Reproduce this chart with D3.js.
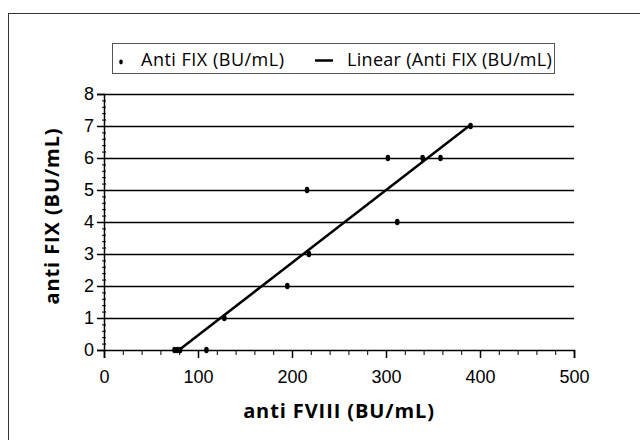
<!DOCTYPE html>
<html>
<head>
<meta charset="utf-8">
<script src="https://cdn.jsdelivr.net/npm/d3@7"></script>
<style>
  body { margin: 0; background: #fff; }
  svg { font-family: "Open Sans", "Noto Sans", sans-serif; }
</style>
</head>
<body>
<svg id="chart" width="640" height="440"></svg>
<script>
// 데이터
const antiFVIII = [75, 78, 81, 109, 128, 195, 216, 218, 302, 312, 339, 358, 390];
const antiFIX   = [0, 0, 0, 0, 1, 2, 5, 3, 6, 4, 6, 6, 7];
const xTicks = [0, 100, 200, 300, 400, 500];
const yTicks = [0, 1, 2, 3, 4, 5, 6, 7, 8];
const legendLabels = ["Anti FIX (BU/mL)", "Linear (Anti FIX (BU/mL)"];
const xTitle = "anti FVIII (BU/mL)";
const yTitle = "anti FIX (BU/mL)";

const svg = d3.select("#chart");
const margin = { top: 94, right: 66, bottom: 90, left: 104 };
const width = +svg.attr("width") - margin.left - margin.right;
const height = +svg.attr("height") - margin.top - margin.bottom;

// 바깥 테두리
svg.append("rect")
    .attr("x", 8.5).attr("y", 13.5)
    .attr("width", 700).attr("height", 600)
    .attr("fill", "none").attr("stroke", "#333").attr("stroke-width", 1);

const g = svg.append("g").attr("transform", `translate(${margin.left},${margin.top})`);

const x = d3.scaleLinear().domain([0, 500]).range([0, width]);
const y = d3.scaleLinear().domain([0, 8]).range([height, 0]);

// 가로 격자선
g.append("g")
    .call(d3.axisLeft(y).tickValues(yTicks.slice(1)).tickSize(-width).tickFormat(""))
    .call(s => s.select(".domain").remove())
    .call(s => s.selectAll("line").attr("stroke", "#000").attr("stroke-width", 1.5));

// 보조 눈금
g.append("g")
    .call(d3.axisLeft(y).tickValues(d3.range(0, 8.01, 0.2)).tickSize(4).tickFormat(""))
    .call(s => s.select(".domain").remove())
    .call(s => s.selectAll("line").attr("stroke", "#000").attr("transform", "translate(2,0)"));

g.append("g")
    .attr("transform", `translate(0,${height})`)
    .call(d3.axisBottom(x).tickValues(d3.range(0, 501, 20)).tickSize(5).tickFormat(""))
    .call(s => s.select(".domain").remove())
    .call(s => s.selectAll("line").attr("stroke", "#000"));

// X축
g.append("g")
    .attr("transform", `translate(0,${height})`)
    .call(d3.axisBottom(x).tickValues(xTicks).tickSize(8).tickPadding(12).tickFormat(d3.format("d")))
    .call(s => s.select(".domain").attr("stroke", "#000").attr("stroke-width", 1.5))
    .call(s => s.selectAll("line").attr("stroke", "#000").attr("stroke-width", 1.5))
    .call(s => s.selectAll("text").attr("fill", "#000").style("font-size", "18px"));

// Y축
g.append("g")
    .call(d3.axisLeft(y).tickValues(yTicks).tickSize(7).tickPadding(3))
    .call(s => s.select(".domain").attr("stroke", "#000").attr("stroke-width", 1.5))
    .call(s => s.selectAll("line").attr("stroke", "#000").attr("stroke-width", 1.5))
    .call(s => s.selectAll("text").attr("fill", "#000").style("font-size", "18px"));

// 추세선 (최소제곱)
const mx = d3.mean(antiFVIII), my = d3.mean(antiFIX);
const slope = d3.sum(antiFVIII, (v, i) => (v - mx) * (antiFIX[i] - my)) /
              d3.sum(antiFVIII, v => (v - mx) ** 2);
const intercept = my - slope * mx;
const x0 = Math.max(d3.min(antiFVIII), -intercept / slope);
const x1 = d3.max(antiFVIII);
const trend = [x0, x1].map(v => ({ x: v, y: slope * v + intercept }));

g.append("path")
    .datum(trend)
    .attr("d", d3.line().x(d => x(d.x)).y(d => y(d.y)))
    .attr("fill", "none")
    .attr("stroke", "#000")
    .attr("stroke-width", 2.5);

// 데이터 점
g.selectAll(".dot")
    .data(antiFVIII.map((v, i) => ({ x: v, y: antiFIX[i] })))
    .enter()
    .append("ellipse")
    .attr("class", "dot")
    .attr("cx", d => x(d.x))
    .attr("cy", d => y(d.y))
    .attr("rx", 2.3)
    .attr("ry", 3.2)
    .attr("fill", "#000");

// 축 제목
svg.append("text")
    .attr("x", margin.left + width / 2)
    .attr("y", 418)
    .attr("text-anchor", "middle")
    .style("font-size", "20px")
    .style("font-weight", "bold")
    .style("letter-spacing", "0.9px")
    .text(xTitle);

svg.append("text")
    .attr("transform", `translate(59,${margin.top + height / 2 - 6}) rotate(-90)`)
    .attr("text-anchor", "middle")
    .style("font-size", "20px")
    .style("font-weight", "bold")
    .style("letter-spacing", "0.9px")
    .text(yTitle);

// 범례
const legend = svg.append("g");
legend.append("rect")
    .attr("x", 112.5).attr("y", 43.5)
    .attr("width", 442).attr("height", 30)
    .attr("fill", "#fff").attr("stroke", "#555").attr("stroke-width", 1);

legend.append("ellipse")
    .attr("cx", 121).attr("cy", 62)
    .attr("rx", 1.8).attr("ry", 2.4).attr("fill", "#000");
legend.append("text")
    .attr("x", 141).attr("y", 66)
    .style("font-size", "18px")
    .style("letter-spacing", "0.5px")
    .text(legendLabels[0]);

legend.append("line")
    .attr("x1", 315).attr("x2", 333)
    .attr("y1", 60.5).attr("y2", 60.5)
    .attr("stroke", "#000").attr("stroke-width", 2.5);
legend.append("text")
    .attr("x", 347).attr("y", 66)
    .style("font-size", "18px")
    .style("letter-spacing", "0.3px")
    .text(legendLabels[1]);
</script>
</body>
</html>
